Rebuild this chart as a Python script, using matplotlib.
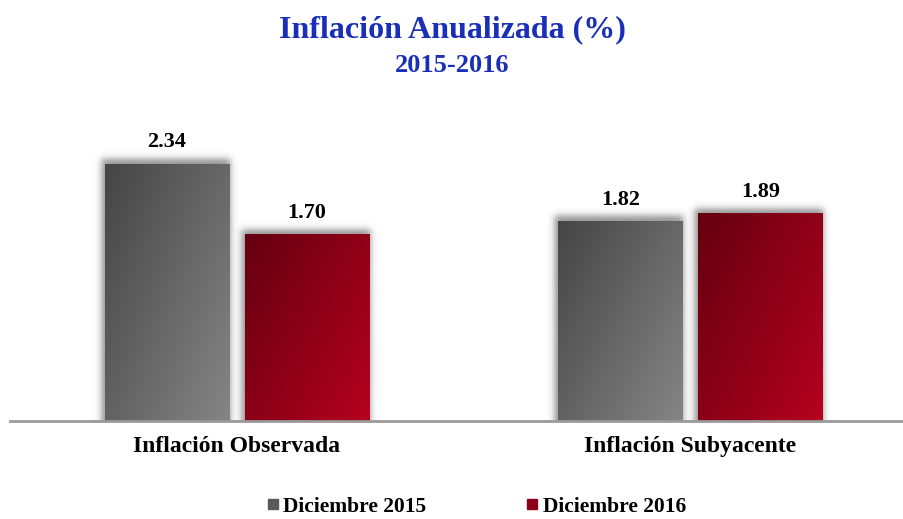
import matplotlib
matplotlib.use('Agg')
import matplotlib.pyplot as plt
import numpy as np
from matplotlib.colors import LinearSegmentedColormap
from matplotlib.lines import Line2D

categories = ['Inflación Observada', 'Inflación Subyacente']
series = ['Diciembre 2015', 'Diciembre 2016']
dic2015 = [2.34, 1.82]
dic2016 = [1.70, 1.89]

grad_colors = [('#454545', '#858585'), ('#650010', '#b5001f')]
legend_colors = ['#5a5a5a', '#8a0018']

plt.rcParams['font.family'] = ['Liberation Serif', 'DejaVu Serif']
plt.rcParams['font.weight'] = 'bold'

fig = plt.figure(figsize=(9.04, 5.19), dpi=100)
W, H = 904.0, 519.0
ax = fig.add_axes([10 / W, (H - 421) / H, 894 / W, 308 / H])

x = np.arange(len(categories))
bw = 125 / 453.5
off = (bw + 15 / 453.5) / 2

ax.set_xlim(-0.5006, 1.4708)
ax.set_ylim(0, 2.8)

px_x = 1 / 453.5
px_y = 2.8 / 308


def shadow(x0, x1, h):
    # blurred drop shadow behind a bar
    pad_x, pad_y = 14 * px_x, 14 * px_y
    gx = np.linspace(x0 - pad_x, x1 + pad_x, 120)
    gy = np.linspace(0, h + pad_y, 200)
    sx0, sx1 = x0 - 4 * px_x, x1 + 1 * px_x
    sy1 = h + 5 * px_y
    s = 4.0
    axv = 0.5 * (np.tanh((gx - sx0) / (s * px_x)) - np.tanh((gx - sx1) / (s * px_x)))
    ayv = 0.5 * (1 - np.tanh((gy - sy1) / (s * px_y)))
    a = np.outer(ayv, axv) * 0.6
    img = np.zeros((len(gy), len(gx), 4))
    img[..., :3] = 0.3
    img[..., 3] = a
    ax.imshow(img, extent=[gx[0], gx[-1], 0, gy[-1]], origin='lower',
              aspect='auto', zorder=1, interpolation='bilinear')


def grad_bar(xc, h, cols):
    bar = ax.bar(xc, h, width=bw, color='none', edgecolor='none', zorder=2)[0]
    x0, x1 = xc - bw / 2, xc + bw / 2
    shadow(x0, x1, h)
    cmap = LinearSegmentedColormap.from_list('g', cols)
    gx = np.linspace(0, 1, 100)
    gy = np.linspace(0, 1, 100)
    # dark at top-left, light at bottom-right
    Z = 0.55 * gx[None, :] + 0.45 * (1 - gy[:, None])
    im = ax.imshow(Z, extent=[x0, x1, 0, h], origin='lower', cmap=cmap,
                   aspect='auto', zorder=2, vmin=0, vmax=1)
    im.set_clip_path(bar)
    ax.annotate('%.2f' % h, (xc, h), xytext=(0, 8), textcoords='offset points',
                ha='center', va='bottom', fontsize=16, fontweight='bold')


for i in range(len(categories)):
    grad_bar(x[i] - off, dic2015[i], grad_colors[0])
    grad_bar(x[i] + off, dic2016[i], grad_colors[1])

ax.set_xlim(-0.5006, 1.4708)
ax.set_ylim(0, 2.8)

for side in ['top', 'right', 'left']:
    ax.spines[side].set_visible(False)
ax.spines['bottom'].set_color('#9a9a9a')
ax.spines['bottom'].set_linewidth(2)
ax.set_yticks([])
ax.set_xticks(x)
ax.set_xticklabels(categories, fontsize=17, fontweight='bold')
ax.tick_params(axis='x', length=0, pad=11)

fig.text(0.5, 1 - 30 / H, 'Inflación Anualizada (%)', ha='center', va='center',
         fontsize=23, fontweight='bold', color='#1a2fb8')
fig.text(0.5, 1 - 66 / H, '2015-2016', ha='center', va='center',
         fontsize=19, fontweight='bold', color='#1a2fb8')

handles = [Line2D([], [], marker='s', linestyle='none', markersize=7.5,
                  markerfacecolor=c, markeredgecolor=c) for c in legend_colors]
fig.legend(handles, series, loc='center', bbox_to_anchor=(476 / W, 1 - 507 / H),
           ncol=2, frameon=False, prop={'size': 15.5, 'weight': 'bold'},
           handletextpad=0.2, columnspacing=4.6, handlelength=0.6,
           borderpad=0.1)

plt.savefig('out.png', dpi=100)
